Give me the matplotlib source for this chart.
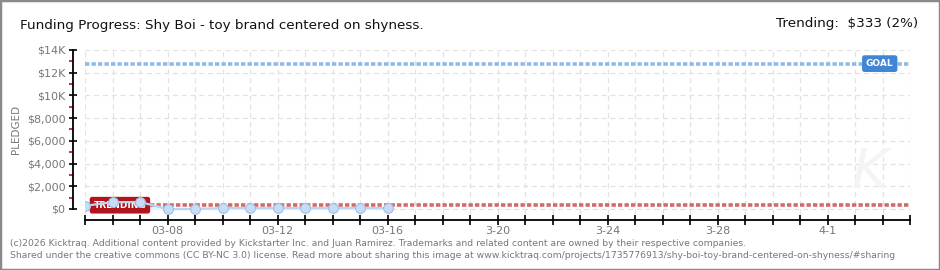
import numpy as np
import matplotlib
matplotlib.use("Agg")
import matplotlib.pyplot as plt
from matplotlib.patches import Rectangle

# data
days = [0, 1, 2, 3, 4, 5, 6, 7, 8, 9, 10, 11]          # 03-05 .. 03-16
pledged = [280, 600, 610, 0, 0, 80, 80, 80, 80, 80, 80, 80]
goal = 12800
trending = 333
n_days = 30
tick_days = [3, 7, 11, 15, 19, 23, 27]
tick_labels = ["03-08", "03-12", "03-16", "3-20", "3-24", "3-28", "4-1"]
y_major = [0, 2000, 4000, 6000, 8000, 10000, 12000, 14000]
y_labels = ["$0", "$2,000", "$4,000", "$6,000", "$8,000", "$10K", "$12K", "$14K"]
y_minor = [1000, 3000, 5000, 7000, 9000, 11000, 13000]

W, H = 940, 270
fig = plt.figure(figsize=(W / 100, H / 100), dpi=100)
fig.patch.set_facecolor("white")

# border of the image
fig.add_artist(Rectangle((0, 0), 1, 1, transform=fig.transFigure, fill=False,
                         edgecolor="#8a8a8a", linewidth=2.5))

ax_l, ax_r, ax_top, ax_bot = 85, 910, 50, 220
ax = fig.add_axes([ax_l / W, 1 - ax_bot / H, (ax_r - ax_l) / W, (ax_bot - ax_top) / H])
ymin = -970
ax.set_xlim(0, n_days)
ax.set_ylim(ymin, 14000)

# grid
for d in range(n_days + 1):
    ax.plot([d, d], [-400, 14000], color="#e2e2e2", lw=0.9, ls=(0, (4, 3)), zorder=0)
for v in y_major:
    ax.plot([0, n_days], [v, v], color="#e2e2e2", lw=0.9, ls=(0, (4, 3)), zorder=0)

# goal and trending lines
ax.plot([0, n_days], [goal, goal], color="#8dbbe8", lw=2.6, ls=(0, (1.2, 0.6)), zorder=2)
ax.plot([0, n_days], [trending, trending], color="#d36a6a", lw=2.6, ls=(0, (1.2, 0.6)), zorder=2)

# pledged series
ax.fill_between(days, pledged, 0, color="#e6f0fb", zorder=1)
ax.plot(days, pledged, color="#b9d5f2", lw=1.6, marker="o", markersize=7,
        markerfacecolor="#c5ddf6", markeredgecolor="#9fc0e6", markeredgewidth=0.8, zorder=4)

# labels on lines
ax.text(1.27, trending, "TRENDING", color="white", fontsize=6.5, ha="center", va="center",
        fontweight="bold", zorder=3,
        bbox=dict(boxstyle="round,pad=0.35,rounding_size=0.2", fc="#b3141c", ec="#b3141c"))
ax.text(28.9, goal, "GOAL", color="white", fontsize=6.5, ha="center", va="center",
        fontweight="bold", zorder=3,
        bbox=dict(boxstyle="round,pad=0.35,rounding_size=0.2", fc="#3f87d6", ec="#3f87d6"))

# axes styling
for s in ["top", "right"]:
    ax.spines[s].set_visible(False)
ax.spines["left"].set_position(("outward", 9))
ax.spines["left"].set_bounds(0, 14000)
ax.spines["left"].set_linewidth(1.3)
ax.spines["bottom"].set_linewidth(1.3)

ax.set_yticks(y_major)
ax.set_yticklabels(y_labels)
ax.set_yticks(y_minor, minor=True)
ax.tick_params(axis="y", which="major", direction="inout", length=6, width=1.2,
               colors="black", labelcolor="#777777", labelsize=8, pad=2)
ax.tick_params(axis="y", which="minor", direction="out", length=3, width=1.2, colors="#dd0000")

ax.set_xticks(range(n_days + 1))
ax.set_xticklabels([tick_labels[tick_days.index(d)] if d in tick_days else "" for d in range(n_days + 1)])
ax.tick_params(axis="x", direction="inout", length=7, width=1.2, colors="black",
               labelcolor="#777777", labelsize=8, pad=1)

ax.set_ylabel("PLEDGED", color="#777777", fontsize=7.5)
ax.yaxis.set_label_coords(21 / W, 1 - 129 / H, transform=fig.transFigure)

# watermark
fig.text(0.925, 0.36, "K", fontsize=40, color="#f4f4f4", ha="center", va="center",
         style="italic", zorder=0)

# header
fig.text(20 / W, 1 - 25 / H, "Funding Progress: Shy Boi - toy brand centered on shyness.",
         fontsize=9.7, color="#111111", ha="left", va="center")
fig.text(918 / W, 1 - 24 / H, "Trending:  $333 (2%)", fontsize=9.7, color="#111111",
         ha="right", va="center")

# footer
fig.text(10 / W, 1 - 243 / H,
         "(c)2026 Kicktraq. Additional content provided by Kickstarter Inc. and Juan Ramirez. "
         "Trademarks and related content are owned by their respective companies.",
         fontsize=6.7, color="#777777", ha="left", va="center")
fig.text(10 / W, 1 - 255 / H,
         "Shared under the creative commons (CC BY-NC 3.0) license. Read more about sharing this image at "
         "www.kicktraq.com/projects/1735776913/shy-boi-toy-brand-centered-on-shyness/#sharing",
         fontsize=6.7, color="#777777", ha="left", va="center")

fig.savefig("out.png", dpi=100)
